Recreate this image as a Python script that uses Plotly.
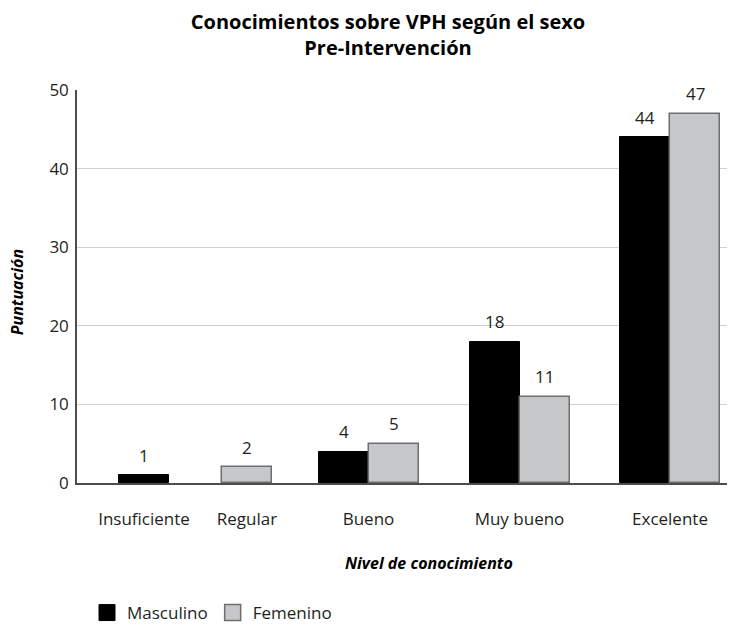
import plotly.graph_objects as go

# data
niveles = ["Insuficiente", "Regular", "Bueno", "Muy bueno", "Excelente"]
masculino = [1, None, 4, 18, 44]
femenino = [None, 2, 5, 11, 47]

# layout: where each level sits on the x axis (plot px units) and bar width
group_x = [67, 170, 291.5, 442.5, 593]
bar_w = 50

FONT = "Open Sans"
fig = go.Figure()

def positions(vals, other, side):
    # bars are centred on the level when only one sex has a value
    xs = []
    for gx, v, o in zip(group_x, vals, other):
        if o is None:
            xs.append(gx)
        else:
            xs.append(gx + side * bar_w / 2)
    return xs

x_m = positions(masculino, femenino, -1)
x_f = positions(femenino, masculino, 1)

m_marker = dict(color="#000000", line=dict(color="#000000", width=1))
f_marker = dict(color="#c6c7c9", line=dict(color="#6d6e70", width=1.5))

fig.add_trace(go.Bar(x=x_m, y=masculino, width=bar_w, name="Masculino",
                     marker=m_marker, showlegend=False))
fig.add_trace(go.Bar(x=x_f, y=femenino, width=bar_w, name="Femenino",
                     marker=f_marker, showlegend=False))
# legend entries with bigger square swatches
fig.add_trace(go.Scatter(x=[None], y=[None], mode="markers", name="Masculino",
                         marker=dict(symbol="square", size=16, **m_marker)))
fig.add_trace(go.Scatter(x=[None], y=[None], mode="markers", name="Femenino",
                         marker=dict(symbol="square", size=16, **f_marker)))

for xs, vals in [(x_m, masculino), (x_f, femenino)]:
    for x, v in zip(xs, vals):
        if v is None:
            continue
        fig.add_annotation(x=x, y=v, text=str(v), showarrow=False, yanchor="middle",
                           yshift=20, font=dict(family=FONT, size=17, color="#231f20"))

fig.add_annotation(x=-0.091, y=0.485, xref="paper", yref="paper", text="<b><i>Puntuación</i></b>",
                   textangle=-90, showarrow=False, xanchor="center", yanchor="middle",
                   font=dict(family=FONT, size=16, color="#000000"))
fig.add_annotation(x=0.5415, y=-0.2036, xref="paper", yref="paper", text="<b><i>Nivel de conocimiento</i></b>",
                   showarrow=False, xanchor="center", yanchor="middle",
                   font=dict(family=FONT, size=16, color="#000000"))

fig.update_layout(
    width=729, height=626,
    margin=dict(l=77, r=2, t=90, b=143),
    paper_bgcolor="white", plot_bgcolor="white",
    font=dict(family=FONT, size=17, color="#231f20"),
    title=dict(text="<b>Conocimientos sobre VPH según el sexo<br>Pre-Intervención</b>",
               x=388 / 729, xanchor="center", y=1 - 29 / 626, yanchor="top",
               font=dict(family=FONT, size=20, color="#000000")),
    showlegend=True,
    legend=dict(orientation="h", xref="container", x=87 / 729, yref="container", y=13 / 626,
                yanchor="middle", xanchor="left", font=dict(family=FONT, size=17),
                bgcolor="rgba(0,0,0,0)", itemsizing="trace"),
    xaxis=dict(range=[0, 650], tickvals=group_x, ticktext=niveles, showgrid=False,
               zeroline=False, showline=True, linecolor="#4d4d4f", linewidth=1.5,
               ticks="", ticklabelstandoff=20),
    yaxis=dict(range=[0, 50], tickvals=[0, 10, 20, 30, 40, 50], showgrid=True,
               gridcolor="#cfcfcf", gridwidth=1, zeroline=False, showline=True,
               linecolor="#4d4d4f", linewidth=1.5, ticks="", ticklabelstandoff=3),
    bargap=0,
)

fig.write_html("out.html", config={"displayModeBar": False},
               post_script="document.body.style.margin='0px';")
